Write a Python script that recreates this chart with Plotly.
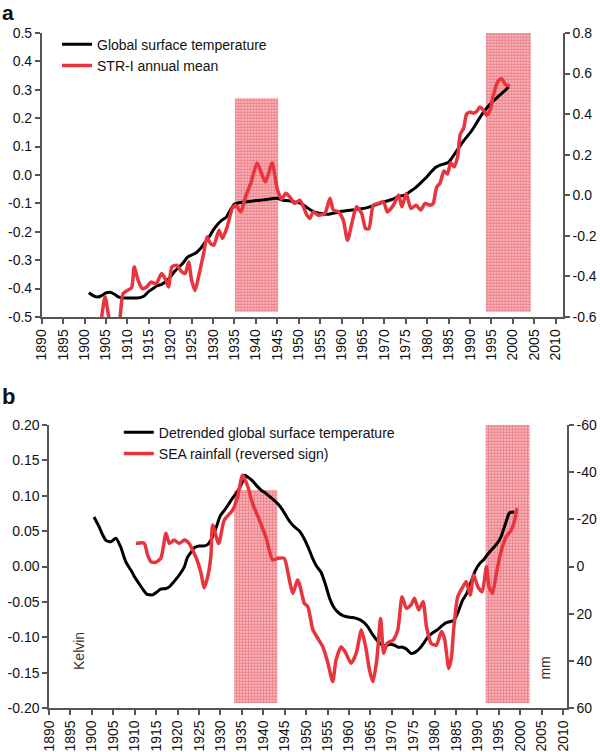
import plotly.graph_objects as go

# ---------------- Panel a data ----------------
temp_a_years = list(range(1901, 2000))
temp_a = [-0.415, -0.425, -0.43, -0.425, -0.415, -0.413, -0.42, -0.43, -0.433, -0.433,
          -0.433, -0.433, -0.432, -0.425, -0.41, -0.40, -0.39, -0.385, -0.375, -0.36,
          -0.34, -0.325, -0.31, -0.29, -0.282, -0.275, -0.26, -0.24, -0.22, -0.195,
          -0.175, -0.16, -0.15, -0.125, -0.102, -0.098, -0.096, -0.094, -0.092, -0.09,
          -0.089, -0.087, -0.085, -0.083, -0.082, -0.088, -0.09, -0.092, -0.095, -0.097,
          -0.105, -0.115, -0.125, -0.132, -0.135, -0.138, -0.138, -0.135, -0.132, -0.128,
          -0.126, -0.124, -0.122, -0.12, -0.118, -0.115, -0.11, -0.105, -0.1, -0.094,
          -0.09, -0.085, -0.078, -0.073, -0.07, -0.058, -0.048, -0.035, -0.02, -0.005,
          0.012, 0.027, 0.035, 0.039, 0.045, 0.065, 0.088, 0.11, 0.13, 0.148,
          0.17, 0.195, 0.218, 0.238, 0.254, 0.268, 0.282, 0.295, 0.31]

str_years = [1904.0, 1904.8, 1905.5, 1906.3, 1907.3, 1908.2, 1909.0, 1910.0, 1911.0, 1911.6,
             1912.5, 1913.5, 1914.5, 1915.5, 1916.7, 1918.0, 1919.0, 1919.6, 1920.4, 1921.5,
             1922.7, 1923.5, 1924.3, 1925.0, 1925.8, 1926.6, 1927.8, 1928.6, 1929.4, 1930.2,
             1931.4, 1932.2, 1933.3, 1934.5, 1935.3, 1936.5, 1937.6, 1938.8, 1940.3, 1942.2,
             1943.8, 1945.0, 1946.0, 1947.0, 1948.0, 1949.0, 1950.3, 1951.9, 1952.6, 1953.4,
             1954.6, 1956.1, 1957.3, 1958.1, 1959.3, 1960.4, 1961.4, 1962.4, 1963.5, 1964.7,
             1965.6, 1966.4, 1967.4, 1968.6, 1969.8, 1970.7, 1972.1, 1973.3, 1974.1, 1975.1,
             1976.2, 1977.4, 1978.5, 1979.5, 1980.7, 1981.4, 1982.2, 1983.0, 1983.9, 1984.7,
             1985.5, 1986.3, 1987.1, 1987.7, 1988.5, 1989.2, 1990.0, 1990.8, 1991.6, 1992.3,
             1993.1, 1993.9, 1994.7, 1995.4, 1996.6, 1997.4, 1998.3, 1999.3]
str_vals = [-0.60, -0.50, -0.58, -0.68, -0.72, -0.62, -0.485, -0.469, -0.455, -0.353,
            -0.419, -0.46, -0.452, -0.428, -0.436, -0.386, -0.419, -0.452, -0.353, -0.345,
            -0.378, -0.386, -0.329, -0.419, -0.469, -0.403, -0.287, -0.205, -0.238, -0.246,
            -0.172, -0.213, -0.156, -0.065, -0.049, -0.082, -0.007, 0.059, 0.159, 0.065,
            0.159, 0.03, -0.02, 0.01, -0.01, -0.04, -0.024, -0.098, -0.114, -0.082,
            -0.098, -0.09, -0.015, -0.073, -0.082, -0.123, -0.222, -0.139, -0.057, -0.09,
            -0.164, -0.164, -0.049, -0.04, -0.032, -0.082, -0.049, 0.001, -0.057, 0.009,
            -0.065, -0.049, -0.073, -0.04, -0.049, -0.04, 0.04, 0.06, 0.12, 0.105,
            0.16, 0.14, 0.19, 0.30, 0.33, 0.40, 0.41, 0.405, 0.415, 0.435,
            0.42, 0.395, 0.42, 0.49, 0.565, 0.575, 0.545, 0.54]

# shaded periods panel a: (start, end, bottom, top) in left-axis units
shade_a = [(1935.1, 1945.2, -0.482, 0.27), (1993.7, 2004.2, -0.482, 0.50)]

# ---------------- Panel b data ----------------
dtemp_years = [1900.5, 1901.7, 1902.5, 1903.3, 1904.4, 1905.6, 1906.7, 1907.9, 1909.1, 1910.0,
               1911.0, 1912.0, 1912.8, 1914.2, 1915.2, 1916.0, 1917.3, 1918.2, 1918.8, 1920.4,
               1921.6, 1922.3, 1923.0, 1924.0, 1925.0, 1926.0, 1927.0, 1928.0, 1929.0, 1930.0,
               1931.0, 1932.0, 1933.0, 1934.0, 1935.0, 1935.7, 1936.5, 1937.5, 1938.5, 1939.5,
               1940.5, 1941.5, 1942.5, 1943.5, 1944.5, 1945.5, 1946.5, 1947.5, 1948.5, 1949.5,
               1950.5, 1951.5, 1952.5, 1953.5, 1954.5, 1955.5, 1956.5, 1957.5, 1958.5, 1959.5,
               1960.5, 1961.5, 1962.5, 1963.5, 1964.5, 1965.5, 1966.5, 1967.5, 1968.5, 1969.5,
               1970.5, 1971.5, 1972.5, 1973.5, 1974.5, 1975.5, 1976.5, 1977.5, 1978.5, 1979.5,
               1980.5, 1981.5, 1982.5, 1983.5, 1984.5, 1985.5, 1986.5, 1987.5, 1988.5, 1989.5,
               1990.5, 1991.5, 1992.5, 1993.5, 1994.5, 1995.5, 1996.5, 1997.5, 1998.6]
dtemp = [0.070, 0.056, 0.045, 0.037, 0.035, 0.040, 0.028, 0.007, -0.005, -0.015,
         -0.024, -0.033, -0.039, -0.040, -0.036, -0.032, -0.031, -0.028, -0.024, -0.012,
         0.000, 0.013, 0.019, 0.027, 0.029, 0.029, 0.031, 0.040, 0.055, 0.072,
         0.080, 0.089, 0.098, 0.106, 0.118, 0.129, 0.126, 0.121, 0.114, 0.108,
         0.104, 0.099, 0.094, 0.088, 0.080, 0.070, 0.061, 0.055, 0.050, 0.040,
         0.027, 0.012, 0.000, -0.008, -0.025, -0.045, -0.058, -0.065, -0.069, -0.071,
         -0.072, -0.073, -0.075, -0.079, -0.086, -0.096, -0.104, -0.110, -0.112, -0.110,
         -0.111, -0.114, -0.114, -0.117, -0.123, -0.121, -0.116, -0.108, -0.099, -0.094,
         -0.090, -0.085, -0.080, -0.078, -0.076, -0.064, -0.048, -0.038, -0.022, -0.006,
         0.004, 0.010, 0.018, 0.025, 0.032, 0.042, 0.060, 0.076, 0.077]

rain_years = [1910.3, 1912.2, 1913.0, 1913.8, 1914.9, 1916.1, 1917.3, 1918.1, 1919.2, 1920.4,
              1921.6, 1922.7, 1923.5, 1924.5, 1925.5, 1926.2, 1927.2, 1927.8, 1928.2, 1929.6,
              1930.9, 1932.9, 1934.0, 1935.2, 1936.4, 1937.5, 1939.1, 1940.6, 1942.2, 1943.4,
              1944.9, 1946.1, 1946.9, 1948.0, 1948.4, 1949.6, 1950.4, 1951.6, 1952.7, 1953.9,
              1955.1, 1956.2, 1957.0, 1958.2, 1959.3, 1960.5, 1961.7, 1962.9, 1963.9, 1964.8,
              1965.6, 1966.5, 1967.4, 1968.1, 1968.9, 1970.3, 1971.4, 1972.4, 1973.4, 1974.5,
              1975.3, 1976.3, 1977.3, 1978.1, 1979.2, 1980.4, 1981.6, 1982.3, 1983.3, 1983.9,
              1984.5, 1985.4, 1986.6, 1987.4, 1988.3, 1989.1, 1990.1, 1991.1, 1992.1, 1992.7,
              1993.5, 1994.4, 1995.6, 1996.7, 1997.9, 1998.7, 1999.2]
rain = [-9.8, -9.9, -4.9, -2.0, -1.8, -3.5, -14.1, -9.8, -11.2, -9.8,
        -11.2, -9.8, -7.0, -3.0, 3.0, 9.0, 3.0, -5.0, -17.6, -9.8,
        -19.7, -24.0, -29.6, -38.8, -33.9, -26.8, -19.7, -12.6, -2.8, -3.5,
        -3.5, 5.7, 11.4, 5.7, 7.1, 15.6, 17.0, 26.9, 30.4, 34.0,
        41.0, 48.8, 39.6, 34.0, 36.8, 41.0, 36.8, 26.9, 34.0, 43.9,
        48.8, 39.6, 22.0, 36.8, 32.6, 31.2, 26.9, 12.8, 17.7, 16.3,
        13.5, 18.4, 14.9, 25.5, 32.6, 33.3, 27.6, 30.4, 43.2, 38.9,
        25.5, 12.8, 8.6, 6.4, 12.1, 3.6, 8.6, 10.7, 0.1, 8.6,
        11.4, 2.9, -7.0, -12.6, -15.5, -19.7, -24.7]

shade_b = [(1933.2, 1943.3, -0.193, 0.108), (1991.9, 2002.2, -0.193, 0.203)]

# ---------------- tick labels ----------------
year_ticks = list(range(1890, 2011, 5))
year_labels = [str(y) for y in year_ticks]
a_left_vals = [0.5, 0.4, 0.3, 0.2, 0.1, 0.0, -0.1, -0.2, -0.3, -0.4, -0.5]
a_left_text = ["0.5", "0.4", "0.3", "0.2", "0.1", "0.0", "-0.1", "-0.2", "-0.3", "-0.4", "-0.5"]
a_right_vals = [0.8, 0.6, 0.4, 0.2, 0.0, -0.2, -0.4, -0.6]
a_right_text = ["0.8", "0.6", "0.4", "0.2", "0.0", "-0.2", "-0.4", "-0.6"]
b_left_vals = [0.20, 0.15, 0.10, 0.05, 0.0, -0.05, -0.10, -0.15, -0.20]
b_left_text = ["0.20", "0.15", "0.10", "0.05", "0.00", "-0.05", "-0.10", "-0.15", "-0.20"]
b_right_vals = [-60, -40, -20, 0, 20, 40, 60]
b_right_text = ["-60", "-40", "-20", "0", "20", "40", "60"]

RED = "#e8343d"
FONT = "Liberation Sans, Arial, Helvetica, sans-serif"
AXC = "#555555"

fig = go.Figure()

pattern = dict(shape=".", fgcolor="#e22a37", bgcolor="#fbdcdf", size=3, solidity=0.75)

for (x0, x1, y0, y1) in shade_a:
    fig.add_trace(go.Scatter(x=[x0, x1, x1, x0, x0], y=[y0, y0, y1, y1, y0],
                             fill="toself", mode="none", fillcolor="#fbdcdf",
                             fillpattern=pattern, xaxis="x", yaxis="y",
                             showlegend=False, hoverinfo="skip"))
for (x0, x1, y0, y1) in shade_b:
    fig.add_trace(go.Scatter(x=[x0, x1, x1, x0, x0], y=[y0, y0, y1, y1, y0],
                             fill="toself", mode="none", fillcolor="#fbdcdf",
                             fillpattern=pattern, xaxis="x2", yaxis="y3",
                             showlegend=False, hoverinfo="skip"))

fig.add_trace(go.Scatter(x=temp_a_years, y=temp_a, mode="lines", name="Global surface temperature",
                         line=dict(color="black", width=3, shape="spline", smoothing=0.6),
                         xaxis="x", yaxis="y", legend="legend"))
fig.add_trace(go.Scatter(x=str_years, y=str_vals, mode="lines", name="STR-I annual mean",
                         line=dict(color=RED, width=3.5, shape="spline", smoothing=0.6),
                         xaxis="x", yaxis="y2", legend="legend"))
fig.add_trace(go.Scatter(x=dtemp_years, y=dtemp, mode="lines", name="Detrended global surface temperature",
                         line=dict(color="black", width=3, shape="spline", smoothing=0.6),
                         xaxis="x2", yaxis="y3", legend="legend2"))
fig.add_trace(go.Scatter(x=rain_years, y=rain, mode="lines", name="SEA rainfall (reversed sign)",
                         line=dict(color=RED, width=3.5, shape="spline", smoothing=0.6),
                         xaxis="x2", yaxis="y4", legend="legend2"))

common = dict(showgrid=False, zeroline=False, showline=True, linecolor=AXC, linewidth=1.5,
              ticks="outside", ticklen=5, tickcolor=AXC, tickwidth=1.5,
              tickfont=dict(family=FONT, size=14, color="#111"), automargin=False)

fig.update_layout(
    width=600, height=752,
    margin=dict(l=0, r=0, t=0, b=0),
    paper_bgcolor="white", plot_bgcolor="white",
    font=dict(family=FONT, size=14, color="#111"),
    xaxis=dict(domain=[0.0695, 0.9383], range=[1890, 2011.7], anchor="y",
               tickmode="array", tickvals=year_ticks, ticktext=year_labels, tickangle=-90, **common),
    yaxis=dict(domain=[0.5785, 0.9561], range=[-0.5, 0.5], anchor="x",
               tickmode="array", tickvals=a_left_vals, ticktext=a_left_text, **common),
    yaxis2=dict(range=[-0.6, 0.8], overlaying="y", side="right", anchor="x",
                tickmode="array", tickvals=a_right_vals, ticktext=a_right_text, **common),
    xaxis2=dict(domain=[0.0817, 0.945], range=[1890, 2010.9], anchor="y3",
                tickmode="array", tickvals=year_ticks, ticktext=year_labels, tickangle=-90, **common),
    yaxis3=dict(domain=[0.0585, 0.4348], range=[-0.2, 0.2], anchor="x2",
                tickmode="array", tickvals=b_left_vals, ticktext=b_left_text, **common),
    yaxis4=dict(range=[60, -60], overlaying="y3", side="right", anchor="x2",
                tickmode="array", tickvals=b_right_vals, ticktext=b_right_text, **common),
    legend=dict(x=0.095, y=0.962, xanchor="left", yanchor="top", bgcolor="rgba(0,0,0,0)",
                font=dict(family=FONT, size=14, color="#111"), tracegroupgap=0),
    legend2=dict(x=0.198, y=0.446, xanchor="left", yanchor="top", bgcolor="rgba(0,0,0,0)",
                 font=dict(family=FONT, size=14, color="#111"), tracegroupgap=0),
    annotations=[
        dict(text="<b>a</b>", x=0.0, y=0.9835, xref="paper", yref="paper", xanchor="left",
             yanchor="middle", showarrow=False, font=dict(family=FONT, size=21, color="#111")),
        dict(text="<b>b</b>", x=0.0, y=0.473, xref="paper", yref="paper", xanchor="left",
             yanchor="middle", showarrow=False, font=dict(family=FONT, size=22, color="#111")),
        dict(text="Kelvin", x=0.115, y=0.1064, xref="paper", yref="paper", textangle=-90,
             showarrow=False, font=dict(family=FONT, size=14, color="#333")),
        dict(text="mm", x=0.925, y=0.093, xref="paper", yref="paper", textangle=-90,
             showarrow=False, font=dict(family=FONT, size=14, color="#333")),
    ],
)

fig.write_html("out.html", config={"displayModeBar": False},
               post_script="document.body.style.margin='0';")
